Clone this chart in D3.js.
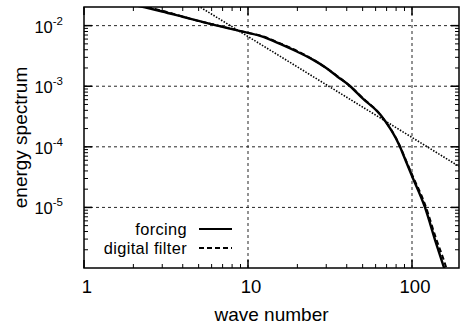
<!DOCTYPE html>
<html>
<head>
<meta charset="utf-8">
<script src="https://cdn.jsdelivr.net/npm/d3@7"></script>
<style>
  body { margin: 0; background: #fff; }
  text { font-family: "Liberation Sans", Arial, sans-serif; fill: #000; }
</style>
</head>
<body>
<svg width="463" height="327"></svg>
<script>
// wave numbers and spectra
let waveNumber = [1, 1.5, 2, 2.35, 3, 4, 5, 6.5, 8, 10, 12, 15.7, 20, 25, 30, 35, 42, 50, 64, 84.5, 90, 100, 120, 140, 157, 175];
let forcing    = [0.03, 0.026, 0.022, 0.02, 0.0171, 0.014, 0.012, 0.01, 0.00875, 0.0076, 0.0067, 0.0050, 0.0037, 0.00272, 0.002, 0.00145, 0.001, 0.00063, 0.00034, 0.0001, 0.000066, 0.000033, 0.00001, 0.0000026, 0.000001, 0.0000004];
let filter     = [0.03, 0.026, 0.0225, 0.0205, 0.0176, 0.0141, 0.0119, 0.0101, 0.0088, 0.0076, 0.0068, 0.0051, 0.0038, 0.00275, 0.002, 0.00147, 0.001, 0.00064, 0.00034, 0.000102, 0.000068, 0.000035, 0.0000112, 0.0000031, 0.0000013, 0.0000005];
// k^-5/3 reference line (two end points)
let refK = [4, 200];
let refE = [0.0304, 0.000045];

let xTicks = [1, 10, 100];
let yTicks = [1e-2, 1e-3, 1e-4, 1e-5];
let yExp = ["-2", "-3", "-4", "-5"];
let legendNames = ["forcing", "digital filter"];

let mLeft = 84, mRight = 459, mTop = 7, mBottom = 268;

let svg = d3.select("svg");
let x = d3.scaleLog().domain([1, 10 ** ((mRight - mLeft) / 164)]).range([mLeft, mRight]);
let y = d3.scaleLog().domain([1e-6, 0.0203]).range([mBottom, mTop]);

svg.append("clipPath").attr("id", "clip")
  .append("rect").attr("x", mLeft).attr("y", mTop)
  .attr("width", mRight - mLeft).attr("height", mBottom - mTop);

// grid
let grid = svg.append("g").attr("stroke", "#000").attr("stroke-width", 1)
  .attr("stroke-dasharray", "3,3").attr("opacity", 0.85);
grid.selectAll(".gx").data(xTicks.slice(1)).enter().append("line")
  .attr("x1", d => x(d)).attr("x2", d => x(d)).attr("y1", mBottom).attr("y2", mTop);
grid.selectAll(".gy").data(yTicks).enter().append("line")
  .attr("x1", mLeft).attr("x2", mRight).attr("y1", d => y(d)).attr("y2", d => y(d));

// minor + major ticks on all four sides
let xMinor = [], yMinor = [];
for (let d = 1; d <= 100; d *= 10)
  for (let m = 2; m <= 9; m++) if (d * m < x.domain()[1]) xMinor.push(d * m);
for (let d = 1e-6; d <= 1e-3; d *= 10)
  for (let m = 2; m <= 9; m++) if (d * m < y.domain()[1]) yMinor.push(d * m);

let ticks = svg.append("g").attr("stroke", "#000").attr("stroke-width", 1);
[[mBottom, -1], [mTop, 1]].forEach(([yy, s]) => {
  ticks.selectAll(null).data(xMinor).enter().append("line")
    .attr("x1", d => x(d)).attr("x2", d => x(d)).attr("y1", yy).attr("y2", yy + s * 4);
  ticks.selectAll(null).data(xTicks).enter().append("line")
    .attr("x1", d => x(d)).attr("x2", d => x(d)).attr("y1", yy).attr("y2", yy + s * 8)
    .attr("stroke-width", 1.5);
});
[[mLeft, 1], [mRight, -1]].forEach(([xx, s]) => {
  ticks.selectAll(null).data(yMinor).enter().append("line")
    .attr("y1", d => y(d)).attr("y2", d => y(d)).attr("x1", xx).attr("x2", xx + s * 4);
  ticks.selectAll(null).data(yTicks).enter().append("line")
    .attr("y1", d => y(d)).attr("y2", d => y(d)).attr("x1", xx).attr("x2", xx + s * 8)
    .attr("stroke-width", 1.5);
});

// curves
let line = d3.line().x(d => x(d[0])).y(d => y(d[1])).curve(d3.curveMonotoneX);
let plot = svg.append("g").attr("clip-path", "url(#clip)").attr("fill", "none").attr("stroke", "#000");
plot.append("path").datum(d3.zip(refK, refE)).attr("d", line)
  .attr("stroke-width", 1.6).attr("stroke-dasharray", "1.5,1.5");
plot.append("path").datum(d3.zip(waveNumber, filter)).attr("d", line)
  .attr("stroke-width", 2).attr("stroke-dasharray", "5,3");
plot.append("path").datum(d3.zip(waveNumber, forcing)).attr("d", line)
  .attr("stroke-width", 2.4);

// frame
svg.append("rect").attr("x", mLeft).attr("y", mTop)
  .attr("width", mRight - mLeft).attr("height", mBottom - mTop)
  .attr("fill", "none").attr("stroke", "#000").attr("stroke-width", 1.5);

// tick labels
svg.selectAll(".xl").data(xTicks).enter().append("text")
  .attr("x", d => x(d) + 3).attr("y", 293).attr("text-anchor", "middle")
  .attr("font-size", 18.5).text(d => d);

let yl = svg.selectAll(".yl").data(yTicks).enter().append("text")
  .attr("x", 63).attr("y", d => y(d) + 7).attr("text-anchor", "end").attr("font-size", 16.5);
yl.append("tspan").text("10");
yl.append("tspan").attr("dy", -8).attr("font-size", 11.5).text((d, i) => yExp[i]);

// axis titles
svg.append("text").attr("x", (mLeft + mRight) / 2).attr("y", 321)
  .attr("text-anchor", "middle").attr("font-size", 19).text("wave number");
svg.append("text").attr("transform", `translate(27,${(mTop + mBottom) / 2}) rotate(-90)`)
  .attr("text-anchor", "middle").attr("font-size", 19).text("energy spectrum");

// legend
let leg = svg.append("g");
legendNames.forEach((name, i) => {
  let ly = 229 + i * 19;
  leg.append("text").attr("x", 187).attr("y", ly + 6).attr("text-anchor", "end")
    .attr("font-size", 16.4).attr("letter-spacing", 0.35).text(name);
  leg.append("line").attr("x1", 199).attr("x2", 232).attr("y1", ly).attr("y2", ly)
    .attr("stroke", "#000").attr("stroke-width", 2)
    .attr("stroke-dasharray", i ? "5,3" : null);
});
</script>
</body>
</html>
